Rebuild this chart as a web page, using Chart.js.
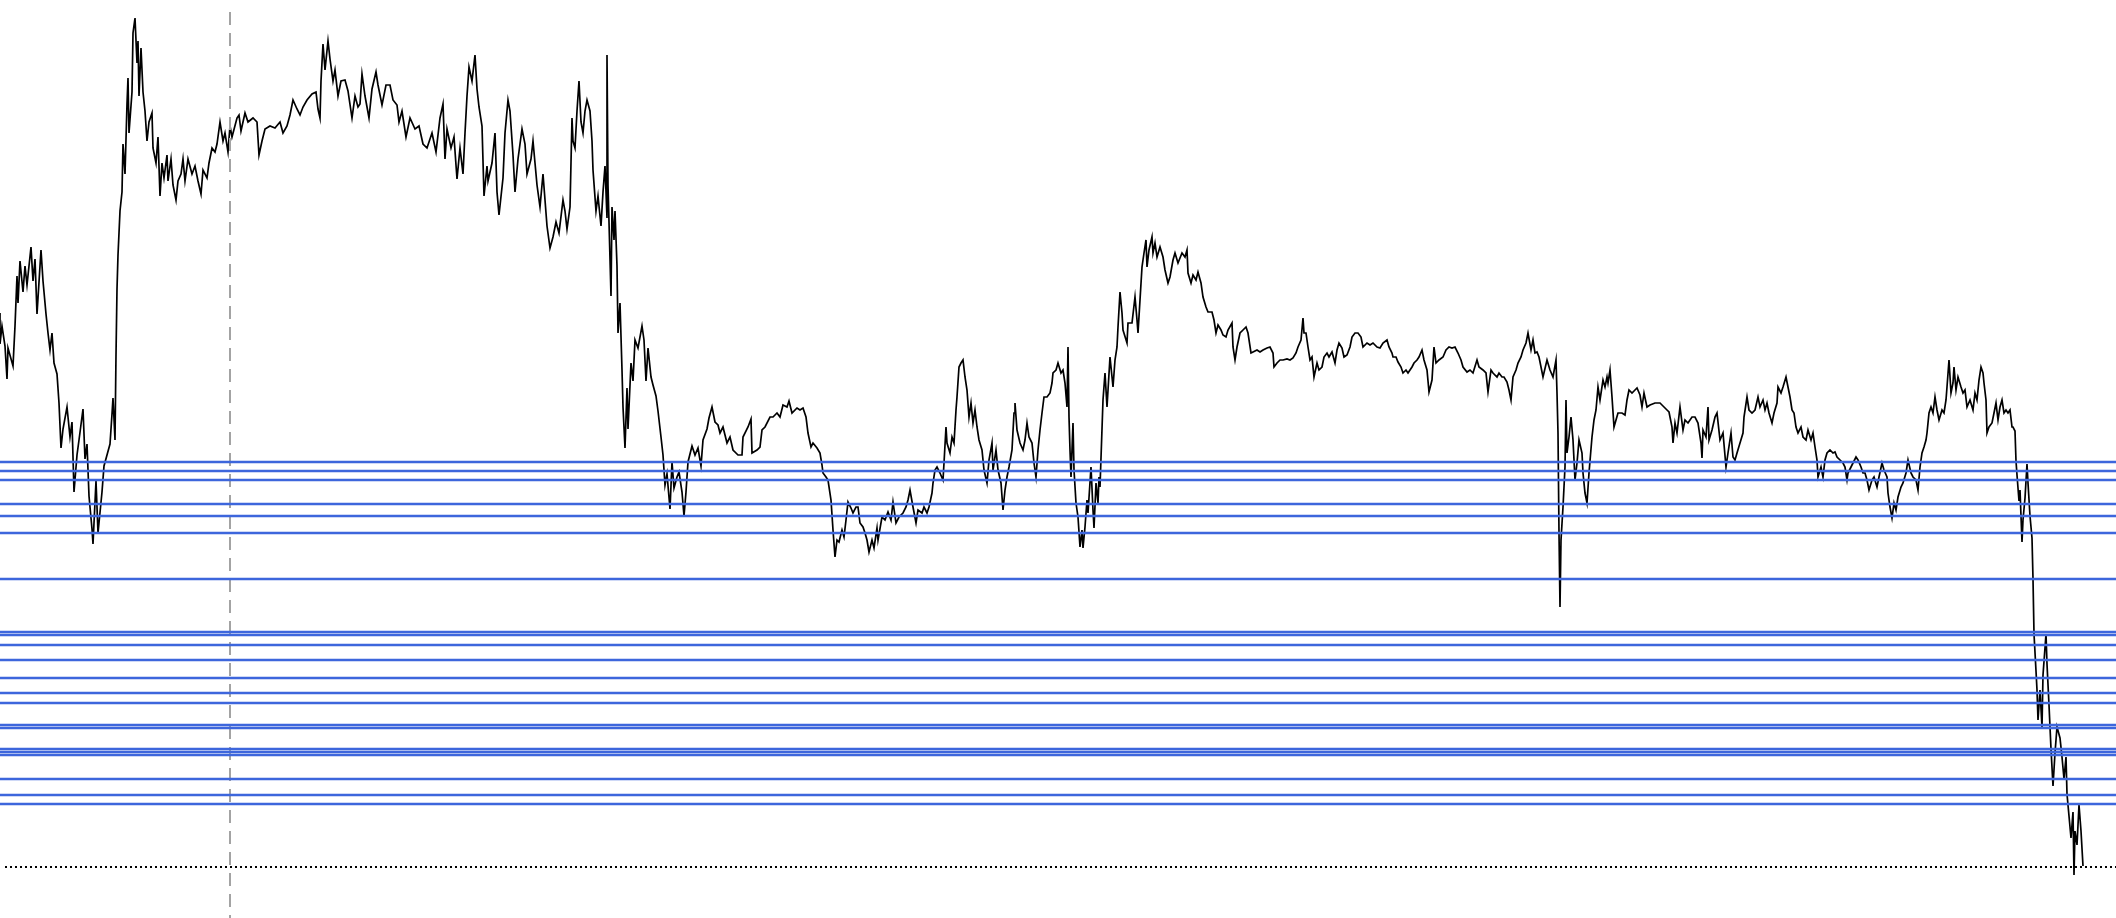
<!DOCTYPE html>
<html>
<head>
<meta charset="utf-8">
<script src="https://cdn.jsdelivr.net/npm/chart.js@4"></script>
<style>
  html, body { margin: 0; padding: 0; background: #fff; }
  #wrap { width: 2116px; height: 918px; position: relative; }
</style>
</head>
<body>
<div id="wrap"><canvas id="main_graphic"></canvas></div>
<script>
// bar positions and prices (price axis runs top -> bottom)
const barX = [
  0,0,2,5,7,8,13,15,17,18,20,23,25,27,31,33,35,37,41,43,46,48,50,52,54,57,59,61,63,67,70,72,74,77,79,83,85,87,89,92,93,96,98,
  102,104,107,110,112,113,115,116,117,118,120,122,123,125,127,128,129,132,133,135,137,138,139,141,143,145,147,149,152,153,156,158,
  160,162,164,167,168,171,173,176,178,181,183,185,188,192,195,198,201,203,207,209,212,215,217,220,223,225,228,230,232,237,239,241,
  245,248,253,257,259,262,265,270,275,280,283,287,290,293,297,300,303,307,312,316,318,320,321,323,325,328,330,333,335,338,341,345,
  348,352,355,358,
  360,362,365,369,372,376,378,382,386,390,393,397,399,402,406,410,415,419,423,427,432,436,440,443,445,447,451,454,457,460,463,465,
  467,469,472,475,477,479,482,484,487,488,492,495,497,499,503,505,508,510,513,515,518,522,525,527,531,533,535,537,540,543,545,547,
  550,553,556,559,563,565,567,570,572,573,575,577,579,581,583,585,587,590,592,593,596,598,601,603,605,607,607,608,611,612,614,615,
  617,618,620,622,623,625,627,628,631,633,635,638,642,644,646,648,651,653,656,658,661,663,665,667,670,672,674,677,679,682,684,686,
  688,692,695,698,701,703,707,709,712,715,718,
  720,723,727,730,733,738,742,743,748,751,752,757,760,762,765,770,773,777,780,783,787,789,792,797,800,803,806,808,811,813,817,820,
  822,823,826,828,831,833,835,837,839,842,844,846,848,851,853,856,858,860,863,865,867,869,872,874,877,878,882,885,888,891,893,896,
  899,903,906,908,910,913,916,918,922,924,927,929,932,933,935,937,940,943,944,946,947,950,952,954,956,957,959,961,963,965,967,969,
  971,973,975,977,979,982,984,987,989,992,993,996,998,1001,1003,1005,1007,1009,1012,1014,1015,1017,1020,1023,1025,1027,1029,1032,
  1034,1036,1038,1040,1042,1044,1047,1050,1052,1053,1056,1058,1061,1063,1065,1067,1068,1069,1070,1071,1073,1074,1076,1078,1080,
  1082,1083,1085,1087,1088,1091,1093,1094,1096,1098,1099,
  1100,1103,1105,1107,1110,1113,1115,1117,1118,1120,1122,1123,1127,1128,1132,1135,1137,1138,1140,1142,1144,1146,1147,1149,1152,
  1153,1155,1157,1160,1163,1165,1168,1170,1173,1175,1178,1182,1185,1187,1188,1191,1193,1196,1198,1201,1203,1206,1208,1212,1214,
  1216,1218,1221,1223,1226,1228,1232,1233,1235,1237,1240,1243,1246,1248,1251,1253,1257,1260,1263,1267,1270,1273,1274,1277,1280,
  1283,1287,1290,1293,1296,1298,1301,1303,1304,1306,1308,1310,1312,1314,1317,1319,1322,1324,1327,1329,1332,1335,1337,1339,1342,
  1344,1347,1350,1352,1355,1358,1361,1363,1367,1370,1373,1377,1380,1383,1387,1389,1392,1393,1396,1398,1401,1403,1406,1408,1412,
  1414,1417,1419,1422,1424,1427,1429,1432,1434,1436,1439,1443,1446,1449,1452,1455,1458,1461,1463,1467,1470,1473,1477,1479,1483,
  1486,1488,1491,1493,1497,1499,1502,1504,1507,1509,1511,1513,1516,1518,1521,1523,1526,1528,1531,1533,1535,1537,1539,
  1543,1547,1550,1553,1556,1557,1558,1559,1560,1561,1563,1565,1566,1567,1569,1571,1573,1575,1577,1579,1582,1583,1585,1587,1589,
  1592,1594,1596,1598,1600,1603,1605,1607,1608,1610,1612,1614,1616,1618,1622,1625,1627,1629,1632,1635,1637,1640,1642,1644,1647,
  1650,1655,1660,1664,1667,1669,1672,1673,1675,1677,1680,1683,1685,1688,1692,1695,1698,1701,1702,1703,1706,1708,1709,1712,1715,
  1717,1720,1723,1726,1728,1731,1733,1735,1737,1740,1743,1744,1747,1749,1752,1755,1758,1760,1763,1765,1767,1769,1772,1774,1777,
  1778,1781,1783,1786,1788,1790,1792,1794,1796,1798,1801,1803,1806,1808,1811,1813,1815,1817,1818,1821,1823,1825,1827,1830,1833,
  1835,1837,1840,1843,1845,1847,1848,1851,1853,1856,1858,1861,1863,1865,1867,1869,1872,1874,1877,1879,1882,1884,1887,1888,1890,
  1892,1894,1896,1898,1901,1903,1906,1908,1911,1913,1916,1918,1920,1922,1924,1926,1927,1929,1931,1933,1935,1937,1939,1942,1944,
  1946,1947,1949,1951,1953,1954,1956,1958,1961,1963,1965,1967,1970,1973,1975,1977,1979,1981,1983,1984,1986,1987,1989,1992,1994,
  1996,1998,2000,2002,2004,2006,2008,2010,2012,2013,2015,
  2016,2017,2019,2020,2022,2023,2025,2027,2028,2030,2032,2033,2034,2036,2037,2038,2040,2042,2043,2046,2047,2049,2051,2053,2055,
  2057,2060,2062,2064,2066,2067,2069,2071,2073,2074,2075,2077,2079,2081,2083
];
const barPrice = [
  313,344,326,346,379,348,366,326,276,303,261,292,266,285,247,281,259,314,250,281,314,333,350,333,363,374,403,448,429,407,437,422,492,455,440,409,459,444,496,529,544,481,533,
  492,466,455,444,414,398,440,355,289,255,211,192,144,174,104,78,133,92,33,18,63,41,96,48,92,111,141,122,113,148,163,137,
  196,163,178,155,181,159,185,200,181,174,159,181,159,174,166,181,194,170,178,163,148,152,144,122,141,133,152,126,137,118,115,131,
  113,122,118,122,155,141,129,126,128,122,133,126,115,100,109,115,107,100,94,92,109,118,81,44,70,41,59,81,70,96,81,80,
  91,118,96,107,
  104,74,96,118,89,72,85,105,85,85,100,105,122,111,137,118,129,126,144,148,133,152,118,104,159,129,148,137,179,148,174,133,
  96,67,81,55,89,107,126,196,166,181,163,133,192,215,178,133,100,111,155,192,159,129,144,174,159,141,163,185,207,174,200,226,
  248,237,222,233,200,211,229,207,118,141,148,111,81,122,133,111,100,111,141,170,211,196,226,192,166,218,55,185,296,207,240,211,
  266,333,303,370,407,448,388,429,363,381,340,348,326,340,381,348,377,385,396,411,437,455,485,474,509,462,488,477,472,492,516,492,
  462,446,455,448,466,440,429,418,407,422,425,
  433,427,443,437,450,455,455,437,427,419,453,450,447,430,427,417,417,413,417,405,407,401,413,408,410,408,417,433,447,443,448,453,
  465,473,477,480,500,530,557,540,542,530,537,520,502,508,513,507,507,523,527,533,540,552,540,548,528,540,517,520,512,520,502,523,
  517,513,507,500,490,507,523,510,513,507,513,507,493,483,470,467,473,480,463,427,443,453,437,443,410,397,367,363,360,377,390,417,
  403,423,410,427,440,450,470,483,460,443,470,450,470,483,510,490,477,467,450,413,403,430,443,450,440,423,437,443,
  463,477,450,430,413,397,397,393,383,373,370,363,373,370,383,407,347,417,450,477,423,470,503,517,547,
  530,548,527,500,513,467,510,528,483,503,477,
  487,400,373,407,357,387,360,347,327,292,313,330,343,323,323,297,320,333,300,267,253,240,267,250,237,
  253,243,257,247,257,270,283,277,260,253,263,253,257,250,273,283,275,280,272,283,297,307,312,312,320,
  333,325,330,335,337,330,323,347,360,347,333,330,327,333,353,352,350,352,350,348,347,353,367,363,360,
  360,359,360,358,353,347,340,318,333,333,347,360,357,377,363,370,367,357,353,357,352,363,350,343,348,
  357,355,347,337,333,333,337,347,343,345,343,347,348,343,340,347,353,357,357,362,367,373,370,373,367,
  363,360,357,350,360,370,392,380,347,363,360,357,350,347,348,347,353,360,367,372,370,373,360,367,370,
  373,392,370,373,377,373,377,377,382,390,400,377,370,363,357,350,343,333,350,340,353,352,357,
  377,360,370,377,360,393,433,533,607,540,507,467,400,453,437,417,440,480,463,440,453,473,493,503,473,
  437,420,410,387,400,380,387,377,383,370,397,427,420,413,413,415,400,390,393,390,388,395,407,393,407,
  405,403,403,407,410,412,427,443,423,433,407,430,420,423,417,417,423,443,458,430,437,407,440,430,417,
  413,440,433,467,453,433,457,460,453,443,433,417,397,410,413,410,397,407,400,410,403,413,423,413,403,
  387,393,387,377,387,397,410,413,427,433,427,437,440,430,440,433,447,460,477,467,477,460,453,450,453,
  452,457,460,463,467,480,473,467,463,457,460,467,473,473,480,490,480,477,487,477,463,470,477,493,507,
  518,503,510,497,487,483,473,460,473,477,480,490,467,453,447,440,433,413,407,413,397,410,420,410,413,
  400,387,360,393,383,367,390,377,387,393,390,407,400,410,393,400,380,367,373,383,400,433,427,423,413,
  403,420,407,400,413,410,413,410,427,427,431,
  461,475,501,490,542,520,498,464,483,516,538,579,634,671,690,720,690,727,675,634,664,705,749,786,753,
  727,738,757,779,757,794,816,838,812,875,831,845,805,831,866
];

// horizontal price levels (blue), last-price level (dotted) and the marker bar (dashed)
const levels = [462, 471, 480, 504, 516, 533, 579, 632, 635, 645, 660, 678, 693, 703, 725, 728, 749, 752, 755, 779, 795, 804];
const lastPrice = 867;
const markerBar = 230;

const xMin = 0, xMax = 2116;
const yTop = 0, yBottom = 918;

const pricePoints = barX.map((x, i) => ({x: x, y: barPrice[i]}));

const datasets = [];
levels.forEach(lvl => {
  datasets.push({
    data: [{x: xMin, y: lvl}, {x: xMax, y: lvl}],
    borderColor: '#3d66dc',
    borderWidth: 2.4
  });
});
datasets.push({
  data: [{x: 5, y: lastPrice}, {x: xMax, y: lastPrice}],
  borderColor: '#000000',
  borderWidth: 2,
  borderDash: [2, 3]
});
datasets.push({
  data: [{x: markerBar, y: 12}, {x: markerBar, y: yBottom}],
  borderColor: '#a3a3a3',
  borderWidth: 2,
  borderDash: [13, 8]
});
datasets.push({
  data: pricePoints,
  borderColor: '#000000',
  borderWidth: 1.7
});

const config = {
  type: 'line',
  data: {datasets: datasets},
  options: {
    responsive: true,
    maintainAspectRatio: false,
    animation: false,
    layout: {padding: 0},
    elements: {point: {radius: 0}, line: {tension: 0}},
    plugins: {legend: {display: false}, tooltip: {enabled: false}},
    scales: {
      x: {type: 'linear', min: xMin, max: xMax, display: false},
      y: {type: 'linear', min: yTop, max: yBottom, reverse: true, display: false}
    }
  }
};

const myChart = new Chart(document.getElementById('main_graphic'), config);
</script>
</body>
</html>
